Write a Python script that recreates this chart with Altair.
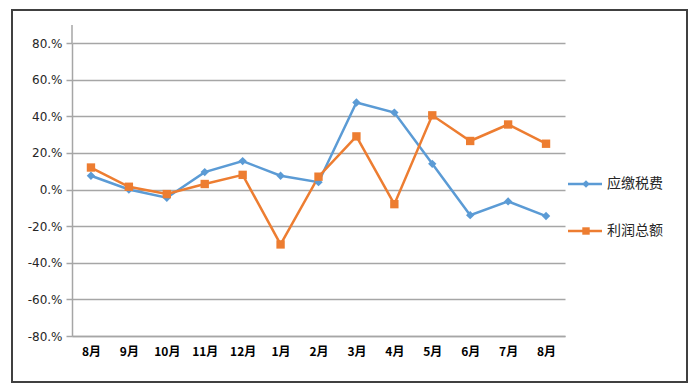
import altair as alt
import pandas as pd

months = ["8月", "9月", "10月", "11月", "12月", "1月", "2月", "3月", "4月", "5月", "6月", "7月", "8月"]
tax = [7.5, 0.0, -4.5, 9.5, 15.5, 7.5, 4.0, 47.5, 42.0, 14.0, -14.0, -6.5, -14.5]
profit = [12.0, 1.5, -2.5, 3.0, 8.0, -30.0, 7.0, 29.0, -8.0, 40.5, 26.5, 35.5, 25.0]
series_names = ["应缴税费", "利润总额"]
colors = ["#5b9bd5", "#ed7d31"]
shapes = ["diamond", "square"]
y_ticks = [-80, -60, -40, -20, 0, 20, 40, 60, 80]

rows = []
for i, m in enumerate(months):
    rows.append({"idx": i, "month": m, "series": series_names[0], "value": tax[i]})
    rows.append({"idx": i, "month": m, "series": series_names[1], "value": profit[i]})
df = pd.DataFrame(rows)

label_arr = "[" + ",".join("'" + m + "'" for m in months) + "]"

W, H = 493, 293

x = alt.X("idx:O", title=None,
          axis=alt.Axis(labelExpr=label_arr + "[datum.value]", labelAngle=0, labelFont="Noto Sans CJK SC",
                        labelFontWeight="bold", labelFontSize=12, labelColor="#000000", tickSize=0,
                        labelPadding=10, domainColor="#a6a6a6", domainWidth=1.5, grid=False,
                        labelOverlap=False))
y = alt.Y("value:Q", title=None,
          scale=alt.Scale(domain=[-80, 80], nice=False),
          axis=alt.Axis(values=y_ticks, labelExpr="datum.value + '.%'", labelOverlap=False,
                        labelFont="DejaVu Sans", labelFontSize=12, labelColor="#262626",
                        tickSize=6, tickColor="#a6a6a6", tickWidth=1.5, labelPadding=4,
                        domainColor="#a6a6a6", domainWidth=1.5,
                        grid=True, gridColor="#a6a6a6", gridWidth=1.5))

color = alt.Color("series:N", scale=alt.Scale(domain=series_names, range=colors), legend=None)
shape = alt.Shape("series:N", scale=alt.Scale(domain=series_names, range=shapes), legend=None)

lines = alt.Chart(df).mark_line(strokeWidth=2.5).encode(x=x, y=y, color=color, detail="series:N")
points = alt.Chart(df).mark_point(filled=True, opacity=1, size=70).encode(
    x=x, y=y, color=color, shape=shape)

border = alt.Chart(pd.DataFrame({"a": [0]})).mark_rect(fill=None, stroke="#404040", strokeWidth=2).encode(
    x=alt.value(-60), x2=alt.value(615), y=alt.value(-33), y2=alt.value(339))
axis_ext = alt.Chart(pd.DataFrame({"a": [0]})).mark_rule(color="#a6a6a6", strokeWidth=1.5).encode(
    x=alt.value(0), y=alt.value(-18), y2=alt.value(0))

legend_layers = []
leg_y = [141, 188]
for i, name in enumerate(series_names):
    d = pd.DataFrame({"name": [name]})
    legend_layers.append(alt.Chart(d).mark_rule(color=colors[i], strokeWidth=2.5).encode(
        x=alt.value(496), x2=alt.value(530), y=alt.value(leg_y[i])))
    legend_layers.append(alt.Chart(d).mark_point(filled=True, opacity=1, size=55, shape=shapes[i], color=colors[i]).encode(
        x=alt.value(514), y=alt.value(leg_y[i])))
    legend_layers.append(alt.Chart(d).mark_text(align="left", baseline="middle", font="Noto Sans CJK SC",
                                                fontSize=14, color="#262626").encode(
        x=alt.value(535), y=alt.value(leg_y[i]), text="name:N"))

chart = alt.layer(border, axis_ext, lines, points, *legend_layers).properties(
    width=W, height=H,
    autosize=alt.AutoSizeParams(type="none"),
    padding={"left": 64, "top": 35, "right": 127, "bottom": 47},
).configure_view(stroke=None)

chart.save("out.html", embed_options={"renderer": "svg", "actions": False})
